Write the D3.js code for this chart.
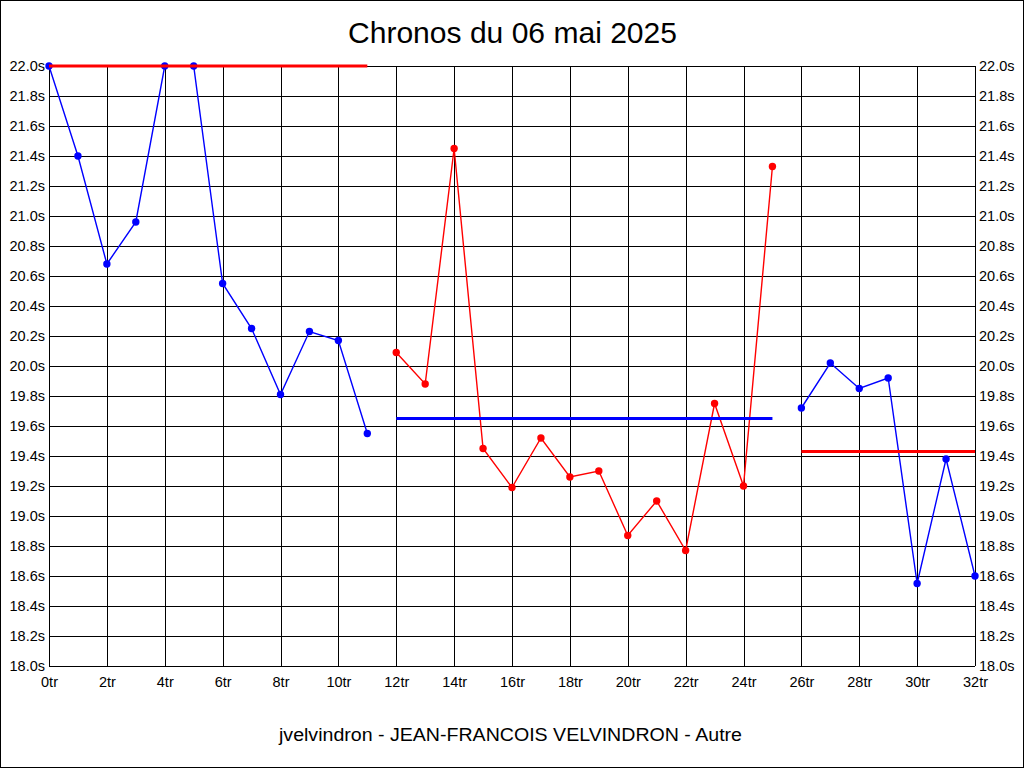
<!DOCTYPE html>
<html><head><meta charset="utf-8">
<script src="https://cdn.jsdelivr.net/npm/d3@7"></script>
<style>
html,body{margin:0;padding:0;background:#fff;}
svg{display:block;font-family:"Liberation Sans",Arial,sans-serif;}
</style></head>
<body>
<svg id="c" width="1024" height="768"></svg>
<script>
const title = "Chronos du 06 mai 2025";
const subtitle = "jvelvindron - JEAN-FRANCOIS VELVINDRON - Autre";
const seg1Laps = [0,1,2,3,4,5,6,7,8,9,10,11];
const seg1Times = [22.0,21.40,20.68,20.96,22.0,22.0,20.55,20.25,19.81,20.23,20.17,19.55];
const seg1Ref = 22.0;
const seg2Laps = [12,13,14,15,16,17,18,19,20,21,22,23,24,25];
const seg2Times = [20.09,19.88,21.45,19.45,19.19,19.52,19.26,19.30,18.87,19.10,18.77,19.75,19.20,21.33];
const seg2Ref = 19.65;
const seg3Laps = [26,27,28,29,30,31,32];
const seg3Times = [19.72,20.02,19.85,19.92,18.55,19.38,18.60];
const seg3Ref = 19.43;
const yTicks = [18.0,18.2,18.4,18.6,18.8,19.0,19.2,19.4,19.6,19.8,20.0,20.2,20.4,20.6,20.8,21.0,21.2,21.4,21.6,21.8,22.0];
const xTicks = [0,2,4,6,8,10,12,14,16,18,20,22,24,26,28,30,32];

const svg = d3.select("#c");
svg.append("rect").attr("x",0.5).attr("y",0.5).attr("width",1023).attr("height",767)
  .attr("fill","#fff").attr("stroke","#000");

const x = d3.scaleLinear().domain([0,32]).range([49,975]);
const y = d3.scaleLinear().domain([18,22]).range([666,66]);

const g = svg.append("g");
g.selectAll("line.h").data(yTicks).join("line")
  .attr("x1",x(0)).attr("x2",x(32))
  .attr("y1",d=>Math.round(y(d))+0.5).attr("y2",d=>Math.round(y(d))+0.5)
  .attr("stroke","#000").attr("stroke-width",1);
g.selectAll("line.v").data(xTicks).join("line")
  .attr("x1",d=>Math.round(x(d))+0.5).attr("x2",d=>Math.round(x(d))+0.5)
  .attr("y1",y(22)).attr("y2",y(18))
  .attr("stroke","#000").attr("stroke-width",1);

const leftAxis = d3.axisLeft(y).tickValues(yTicks).tickSize(0).tickPadding(4).tickFormat(d=>d.toFixed(1)+"s");
const rightAxis = d3.axisRight(y).tickValues(yTicks).tickSize(0).tickPadding(4).tickFormat(d=>d.toFixed(1)+"s");
const bottomAxis = d3.axisBottom(x).tickValues(xTicks).tickSize(0).tickPadding(11).tickFormat(d=>d+"tr");
function style(sel){
  sel.select(".domain").remove();
  sel.selectAll("text").attr("font-size",14.5).attr("fill","#000").attr("font-family","'Liberation Sans',Arial,sans-serif");
}
svg.append("g").attr("transform","translate(49,0)").call(leftAxis).call(style);
svg.append("g").attr("transform","translate(975,0)").call(rightAxis).call(style);
svg.append("g").attr("transform","translate(0,666)").call(bottomAxis).call(style);

const line = d3.line().x(d=>x(d[0])).y(d=>y(d[1]));
function series(laps, times, color){
  const pts = laps.map((l,i)=>[l,times[i]]);
  svg.append("path").attr("d",line(pts)).attr("fill","none").attr("stroke",color).attr("stroke-width",1.4);
  svg.append("g").selectAll("circle").data(pts).join("circle")
    .attr("cx",d=>x(d[0])).attr("cy",d=>y(d[1])).attr("r",3.7).attr("fill",color);
}
function ref(laps, v, color){
  svg.append("line").attr("x1",x(laps[0])).attr("x2",x(laps[laps.length-1]))
    .attr("y1",y(v)).attr("y2",y(v)).attr("stroke",color).attr("stroke-width",3);
}
series(seg1Laps, seg1Times, "#0000ff");
ref(seg1Laps, seg1Ref, "#ff0000");
series(seg2Laps, seg2Times, "#ff0000");
ref(seg2Laps, seg2Ref, "#0000ff");
series(seg3Laps, seg3Times, "#0000ff");
ref(seg3Laps, seg3Ref, "#ff0000");

svg.append("text").attr("x",512.5).attr("y",43).attr("text-anchor","middle")
  .attr("font-size",29).attr("fill","#000").attr("textLength",329).attr("lengthAdjust","spacingAndGlyphs").text(title);
svg.append("text").attr("x",510.5).attr("y",741).attr("text-anchor","middle")
  .attr("font-size",18).attr("fill","#000").attr("textLength",463).attr("lengthAdjust","spacingAndGlyphs").text(subtitle);
</script>
</body></html>
